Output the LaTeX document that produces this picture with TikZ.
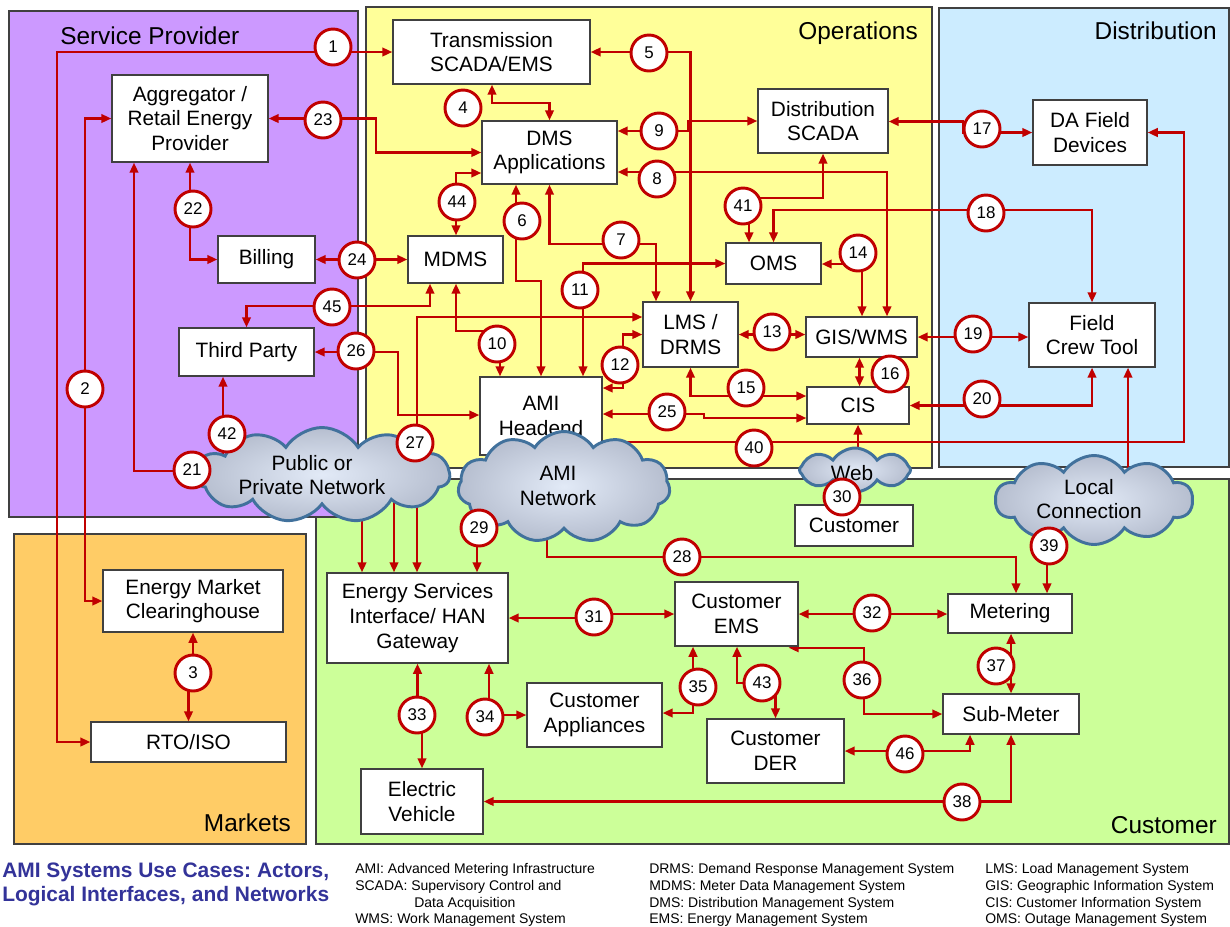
\documentclass[tikz,border=0pt]{standalone}
\usepackage{fontspec}
\setmainfont{Liberation Sans}
\usetikzlibrary{arrows.meta,shapes.symbols}
\definecolor{arr}{RGB}{192,0,0}
\definecolor{boxgray}{RGB}{64,64,64}
\definecolor{spc}{RGB}{204,153,255}
\definecolor{opsc}{RGB}{255,255,153}
\definecolor{distc}{RGB}{204,236,255}
\definecolor{mktc}{RGB}{255,204,102}
\definecolor{cstc}{RGB}{204,255,153}
\definecolor{cloudblue}{RGB}{65,113,156}
\definecolor{cloudin}{RGB}{226,234,247}
\definecolor{cloudout}{RGB}{182,190,207}
\definecolor{titleblue}{RGB}{51,51,153}
\pgfdeclarelayer{bgl}
\pgfdeclarelayer{conl}
\pgfsetlayers{bgl,conl,main}
\frenchspacing
\begin{document}
\begin{tikzpicture}[x=0.75pt,y=-0.75pt,
  >={Triangle[length=7.5pt,width=6.5pt]},
  sz/.style 2 args={minimum width={0.75pt*(#1)}, minimum height={0.75pt*(#2)}},
  xs/.style={xshift={0.75pt*(#1)}},
  ys/.style={yshift={-0.75pt*(#1)}},
  region/.style={draw=boxgray, line width=1.1pt},
  rlabel/.style={font=\fontsize{18.3pt}{20pt}\selectfont, inner sep=0pt},
  box/.style={draw=boxgray, fill=white, line width=1.1pt, inner sep=0pt, align=center, font=\fontsize{15.6pt}{18.5pt}\selectfont},
  num/.style={circle, draw=arr, fill=white, line width=2.2pt, minimum size=27pt, inner sep=0pt, font=\fontsize{12.7pt}{14pt}\selectfont},
  con/.style={draw=arr, line width=1.6pt},
  cloudsty/.style={cloud, cloud puffs=#1, cloud puff arc=115, cloud ignores aspect, draw=cloudblue, line width=2.2pt, inner color=cloudin, outer color=cloudout, inner sep=0pt},
  cldtxt/.style={align=center, inner sep=0pt, font=\fontsize{15.6pt}{18.5pt}\selectfont},
  legend/.style={anchor=base west, inner sep=0pt, font=\fontsize{10.5pt}{12.75pt}\selectfont},
  ttl/.style={anchor=base west, inner sep=0pt, text=titleblue, font=\bfseries\fontsize{15.7pt}{18pt}\selectfont}
]
\useasboundingbox (0,0) rectangle (1230,926);

% ---------- regions ----------
\begin{pgfonlayer}{bgl}
\fill[white] (0,0) rectangle (1230,926);
\draw[region, fill=cstc] (316,479) rectangle (1229,844);
\draw[region, fill=spc] (9,11) rectangle (358,517);
\draw[region, fill=opsc] (366,7) rectangle (932,468);
\draw[region, fill=distc] (939,8) rectangle (1229,467);
\draw[region, fill=mktc] (14,534) rectangle (306,844);
\end{pgfonlayer}
\node[rlabel, anchor=base west] (lsp) at (60,44.5) {Service Provider};
\node[rlabel, anchor=base east] (lops) at (918,39.5) {Operations};
\node[rlabel, anchor=base east] (ldist) at (1217,39.5) {Distribution};
\node[rlabel, anchor=base east] (lmkt) at (291,831.5) {Markets};
\node[rlabel, anchor=base east] (lcst) at (1217,833.5) {Customer};

% ---------- boxes ----------
\node[box,sz={197}{64}] (tr) at (491.5,52) {Transmission\\SCADA/EMS};
\node[box,sz={156}{87}] (agg) at (190,118.5) {Aggregator /\\Retail Energy\\Provider};
\node[box,sz={135}{63}] (dms) at (549.5,152.5) {DMS\\Applications};
\node[box,sz={130}{64}] (dscada) at (823,121) {Distribution\\SCADA};
\node[box,sz={114}{65}] (da) at (1090,132.5) {DA Field\\Devices};
\node[box,sz={97}{47}] (bill) at (266.5,259.5) {Billing};
\node[box,sz={95}{47}] (mdms) at (455.5,259.5) {MDMS};
\node[box,sz={95}{41}] (oms) at (773.5,263.5) {OMS};
\node[box,sz={135}{48}] (third) at (246.5,352) {Third Party};
\node[box,sz={95}{65}] (lms) at (690.5,334.5) {LMS /\\DRMS};
\node[box,sz={111}{40}] (gis) at (861.5,337) {GIS/WMS};
\node[box,sz={102}{37}] (cis) at (858,405.5) {CIS};
\node[box,sz={126}{64}] (fct) at (1092,335) {Field\\Crew Tool};
\node[box,sz={122}{78}] (ah) at (541,416) {AMI\\Headend};
\node[box,sz={118}{41}] (cust) at (854,525.5) {Customer};
\node[box,sz={180}{62}] (emc) at (193,601) {Energy Market\\Clearinghouse};
\node[box,sz={195}{40}] (rto) at (188.5,742) {RTO/ISO};
\node[box,sz={181}{90}] (esi) at (417.5,618) {Energy Services\\Interface/ HAN\\Gateway};
\node[box,sz={123}{64}] (cems) at (736.5,614) {Customer\\EMS};
\node[box,sz={124}{39}] (met) at (1010,613.5) {Metering};
\node[box,sz={135}{64}] (app) at (594.5,715) {Customer\\Appliances};
\node[box,sz={137}{64}] (der) at (775.5,751) {Customer\\DER};
\node[box,sz={136}{40}] (sub) at (1011,714) {Sub-Meter};
\node[box,sz={122}{65}] (ev) at (422,801.5) {Electric\\Vehicle};

% ---------- clouds ----------
\node[cloudsty=11, sz={255}{95}] (ppn) at (322,475) {};
\node[cloudsty=11, sz={212}{111}] (amin) at (564,487) {};
\node[cloudsty=8, sz={111}{44}] (web) at (855,470) {};
\node[cloudsty=10, sz={197}{89}] (local) at (1094,500) {};
\node[cldtxt] (ppnt) at (312,475) {Public or\\Private Network};
\node[cldtxt] (amint) at (558,486) {AMI\\Network};
\node[cldtxt] (webt) at (852,473) {Web};
\node[cldtxt] (localt) at (1089,499) {Local\\Connection};

% ---------- connectors ----------
\begin{pgfonlayer}{conl}
\draw[con,<->] (tr.west) -- ++(-335,0) |- (rto.west);
\draw[con,<->] (agg.west) -- ++(-26,0) |- (emc.west);
\draw[con,<->] (emc.south) -- ++(0,45) -| (rto.north);
\draw[con,<->] ([xs=0.5]tr.south) -- ++(0,18) -| (dms.north);
\draw[con,<->] (tr.east) -| (lms.north);
\draw[con,<->] ([xs=-33.5]dms.south) -- ++(0,96) -| (ah.north);
\draw[con,<->] (dms.south) -- ++(0,59) -| ([xs=-34.5]lms.north);
\draw[con,<->] ([ys=19.5]dms.east) -| ([xs=25.5]gis.north);
\draw[con,<->] ([ys=-21.5]dms.east) -- ++(70,0) -- ++(0,-10) -- (dscada.west);
\draw[con,<->] ([xs=0.5]mdms.south) -- ++(0,47) -| ([xs=-41]ah.north);
\draw[con,<->] (oms.west) -| ([xs=42]ah.north);
\draw[con,<->] ([ys=-28]ah.east) -- ++(20,0) |- (lms.west);
\draw[con,<->] (lms.east) -- (lms.east -| gis.west);
\draw[con,<->] ([ys=0.5]oms.east) -| ([xs=0.5]gis.north);
\draw[con,<->] (lms.south) |- ([ys=-9.5]cis.west);
\draw[con,<->] ([xs=-2]gis.south) -- ([xs=1.5]cis.north);
\draw[con,<->] ([ys=0.5]dscada.east) -- ++(74,0) |- (da.west);
\draw[con,<->] (oms.north) -- ++(0,-32) -| (fct.north);
\draw[con,<->] (gis.east) -- (gis.east -| fct.west);
\draw[con,<->] (cis.east) -| (fct.south);
\draw[con,<->] ([xs=-56]agg.south) -- ++(0,308) -| ([xs=-55.5]esi.north);
\draw[con,<->] (agg.south) |- (bill.west);
\draw[con,<->] (agg.east) -- ++(107,0) |- (dms.west);
\draw[con,<->] (bill.east) -- (mdms.west);
\draw[con,<->] ([ys=-2]ah.east) -- ++(101,0) |- ([ys=12.5]cis.west);
\draw[con,<->] (third.east) -- ++(83,0) |- ([ys=-1]ah.west);
\draw[con,<->] ([ys=-17.5]lms.west) -| ([xs=-0.5]esi.north);
\draw[con,->] ([xs=-17,ys=33]amin.center) -- ++(0,37) -| ([xs=6]met.north);
\draw[con,->] ([xs=-87,ys=20]amin.center) -- ([xs=59.5]esi.north);
\draw[con,->] (cis.south |- cust.north) -- (cis.south);
\draw[con,<->] (esi.east) -- ++(86,0) |- (cems.west);
\draw[con,<->] (cems.east) -- (cems.east -| met.west);
\draw[con,<->] (esi.south) -- ++(0,67) -| (ev.north);
\draw[con,<->] ([xs=71.5]esi.south) |- (app.west);
\draw[con,<->] ([xs=-43.5]cems.south) |- ([ys=-2]app.east);
\draw[con,<->] ([xs=-10,ys=1]cems.south east) -- ++(75,0) |- (sub.west);
\draw[con,<->] ([xs=1]met.south) -- (sub.north);
\draw[con,<->] (ev.east) -| (sub.south);
\draw[con,<->] ([xs=36]fct.south) -- ++(0,133) -| ([xs=37]met.north);
\draw[con,->] ([ys=26]ah.east) -- ++(581,0) |- (da.east);
\draw[con,<->] (dscada.south) -- ++(0,44) -| ([xs=-24.5]oms.north);
\draw[con,<->] ([xs=-23.5]third.south) -- ++(0,104) -| ([xs=-23.5]esi.north);
\draw[con,<->] ([xs=0.5]cems.south) -- ++(0,36) -| (der.north);
\draw[con,<->] ([ys=20.5]dms.west) -| ([xs=0.5]mdms.north);
\draw[con,<->] ([xs=-25.5]mdms.south) -- ++(0,22) -| (third.north);
\draw[con,<->] (der.east) -| ([xs=-41]sub.south);
\end{pgfonlayer}

% ---------- numbered circles ----------
\node[num] (n1) at (333,47) {1};
\node[num] (n2) at (85,389) {2};
\node[num] (n3) at (193,673) {3};
\node[num] (n4) at (463,108) {4};
\node[num] (n5) at (649,53) {5};
\node[num] (n6) at (522,221) {6};
\node[num] (n7) at (621,240) {7};
\node[num] (n8) at (657,179) {8};
\node[num] (n9) at (659,131) {9};
\node[num] (n10) at (497,344) {10};
\node[num] (n11) at (580,290) {11};
\node[num] (n12) at (620,365) {12};
\node[num] (n13) at (772,332) {13};
\node[num] (n14) at (858,253) {14};
\node[num] (n15) at (746,388) {15};
\node[num] (n16) at (890,374) {16};
\node[num] (n17) at (982,129) {17};
\node[num] (n18) at (986,213) {18};
\node[num] (n19) at (973,334) {19};
\node[num] (n20) at (982,399) {20};
\node[num] (n21) at (192,470) {21};
\node[num] (n22) at (193,209) {22};
\node[num] (n23) at (323,120) {23};
\node[num] (n24) at (357,260) {24};
\node[num] (n25) at (667,412) {25};
\node[num] (n26) at (356,351) {26};
\node[num] (n27) at (415,443) {27};
\node[num] (n28) at (682,557) {28};
\node[num] (n29) at (479,528) {29};
\node[num] (n30) at (842,497) {30};
\node[num] (n31) at (594,617) {31};
\node[num] (n32) at (872,613) {32};
\node[num] (n33) at (417,715) {33};
\node[num] (n34) at (485,717) {34};
\node[num] (n35) at (698,687) {35};
\node[num] (n36) at (862,680) {36};
\node[num] (n37) at (996,666) {37};
\node[num] (n38) at (962,802) {38};
\node[num] (n39) at (1049,546) {39};
\node[num] (n40) at (754,448) {40};
\node[num] (n41) at (743,206) {41};
\node[num] (n42) at (227,434) {42};
\node[num] (n43) at (762,683) {43};
\node[num] (n44) at (457,202) {44};
\node[num] (n45) at (332,307) {45};
\node[num] (n46) at (905,754) {46};

% ---------- title and legend ----------
\node[ttl] (t1) at (2,877) {AMI Systems Use Cases: Actors,};
\node[ttl] (t2) at (2,901) {Logical Interfaces, and Networks};
\node[legend] (g1) at (355,873) {AMI: Advanced Metering Infrastructure};
\node[legend] (g2) at (355,890) {SCADA: Supervisory Control and};
\node[legend] (g3) at (414,907) {Data Acquisition};
\node[legend] (g4) at (355,923) {WMS: Work Management System};
\node[legend] (g5) at (649,873) {DRMS: Demand Response Management System};
\node[legend] (g6) at (649,890) {MDMS: Meter Data Management System};
\node[legend] (g7) at (649,907) {DMS: Distribution Management System};
\node[legend] (g8) at (649,923) {EMS: Energy Management System};
\node[legend] (g9) at (985,873) {LMS: Load Management System};
\node[legend] (g10) at (985,890) {GIS: Geographic Information System};
\node[legend] (g11) at (985,907) {CIS: Customer Information System};
\node[legend] (g12) at (985,923) {OMS: Outage Management System};
\end{tikzpicture}
\end{document}
